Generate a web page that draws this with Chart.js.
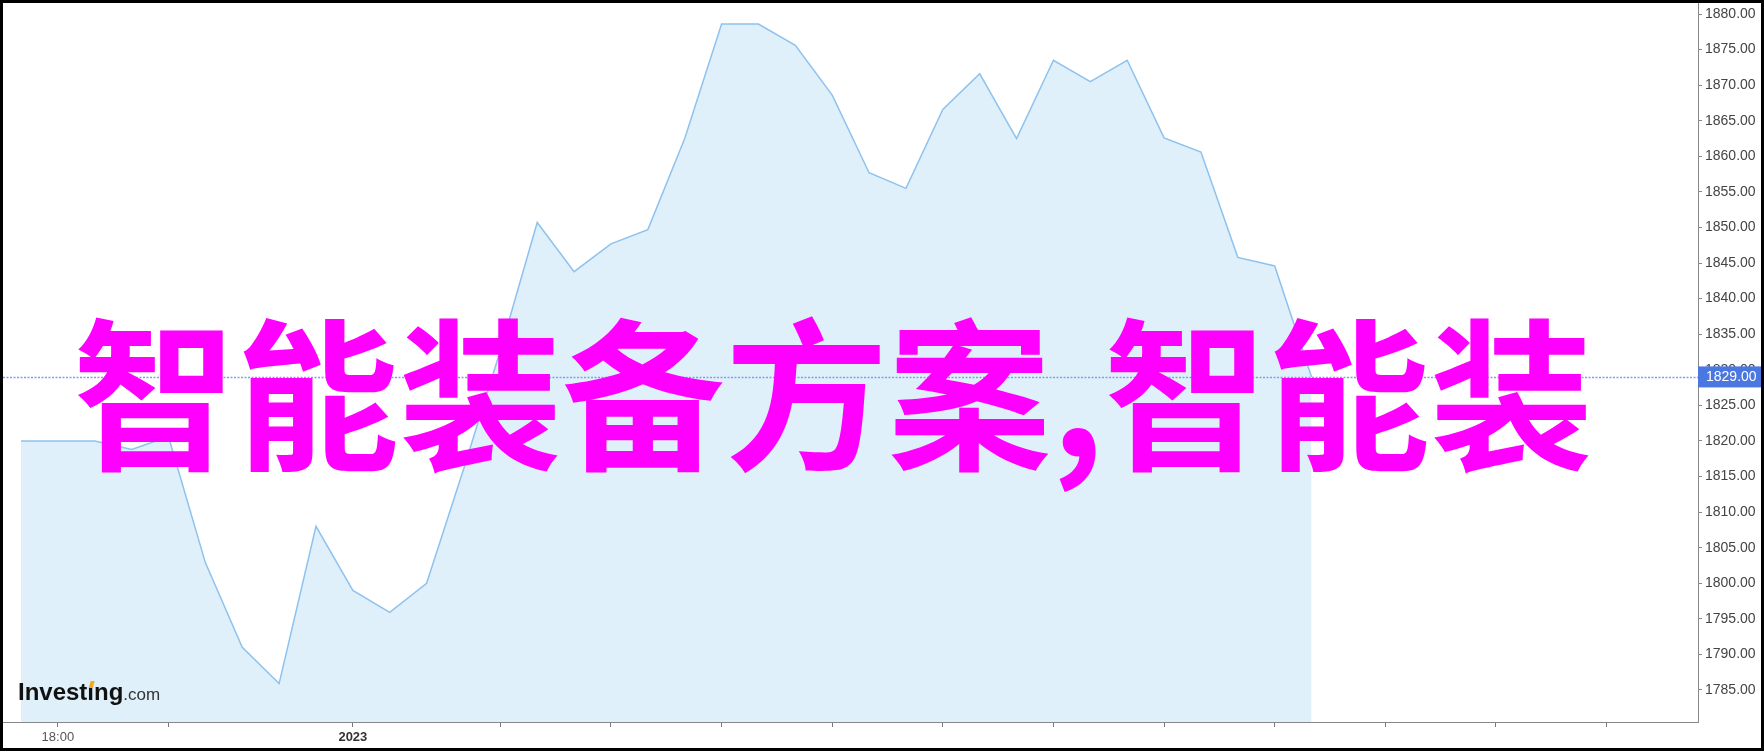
<!DOCTYPE html>
<html>
<head>
<meta charset="utf-8">
<script src="https://cdn.jsdelivr.net/npm/chart.js@4.4.0/dist/chart.umd.min.js"></script>
<style>
  html, body { margin: 0; padding: 0; background: #fff; }
  #wrap { width: 1758px; height: 745px; border: 3px solid #000; }
  canvas { display: block; }
</style>
</head>
<body>
<div id="wrap"><canvas id="chart" width="1758" height="745"></canvas></div>
<script>
  // one point per bar interval, index 0 = first bar
  const prices = [
    1820, 1820, 1820, 1818.8, 1820.6, 1802.9, 1791, 1785.9, 1808, 1799,
    1795.9, 1800, 1816, 1832.7, 1850.7, 1843.8, 1847.7, 1849.7, 1862.5, 1878.6,
    1878.6, 1875.6, 1868.6, 1857.7, 1855.5, 1866.6, 1871.6, 1862.5, 1873.5, 1870.5,
    1873.5, 1862.6, 1860.6, 1845.8, 1844.6, 1829
  ];
  const lastPrice = 1829;

  const xTickIdx = [1, 4, 9, 13, 16, 19, 22, 25, 28, 31, 34, 37, 40, 43];
  const xLabelIdx = [1, 9];
  const xLabelText = ["18:00", "2023"];
  const xBoldIdx = [9];

  const yTicks = [1785, 1790, 1795, 1800, 1805, 1810, 1815, 1820, 1825, 1830,
                  1835, 1840, 1845, 1850, 1855, 1860, 1865, 1870, 1875, 1880];

  const watermark = "智能装备方案,智能装";

  const points = prices.map((p, i) => ({ x: i, y: p }));

  const overlay = {
    id: "overlay",
    afterDatasetsDraw(chart) {
      const { ctx, chartArea: a, scales: { y } } = chart;
      const py = Math.round(y.getPixelForValue(lastPrice)) + 0.5;
      ctx.save();
      ctx.strokeStyle = "#7d9fe8";
      ctx.lineWidth = 1.5;
      ctx.setLineDash([2, 1.5]);
      ctx.beginPath();
      ctx.moveTo(a.left, py);
      ctx.lineTo(a.right, py);
      ctx.stroke();
      ctx.restore();

      // logo
      ctx.save();
      ctx.fillStyle = "#111";
      ctx.font = 'bold 24px "Liberation Sans"';
      ctx.textBaseline = "alphabetic";
      const w1 = ctx.measureText("Invest").width;
      const w2 = ctx.measureText("ı").width;
      ctx.fillText("Investıng", 15, 697);
      const w = ctx.measureText("Investıng").width;
      ctx.fillStyle = "#f5a623";
      ctx.beginPath();
      const dx = 15 + w1 + w2 / 2;
      ctx.moveTo(dx - 2, 685);
      ctx.lineTo(dx + 2, 685);
      ctx.lineTo(dx + 4, 678);
      ctx.lineTo(dx, 678);
      ctx.closePath();
      ctx.fill();
      ctx.fillStyle = "#333";
      ctx.font = '17px "Liberation Sans"';
      ctx.fillText(".com", 15 + w, 697);
      ctx.restore();
    },
    afterDraw(chart) {
      const { ctx, scales: { y } } = chart;
      ctx.save();
      ctx.fillStyle = "#ff00ff";
      ctx.font = 'bold 163px "Noto Sans CJK SC"';
      ctx.textBaseline = "middle";
      ctx.fillText(watermark, 70, 392);
      ctx.restore();

      const py = y.getPixelForValue(lastPrice);
      ctx.save();
      ctx.fillStyle = "#4a78e0";
      ctx.fillRect(y.left, py - 10.5, chart.width - y.left, 21);
      ctx.fillStyle = "#fff";
      ctx.font = '14px "Liberation Sans"';
      ctx.textBaseline = "middle";
      ctx.fillText(lastPrice.toFixed(2), y.left + 8, py + 0.5);
      ctx.restore();
    }
  };

  new Chart(document.getElementById("chart"), {
    type: "line",
    data: {
      datasets: [{
        data: points,
        borderColor: "#8ec2ee",
        borderWidth: 1.5,
        backgroundColor: "#e0f0fa",
        fill: "start",
        pointRadius: 0,
        tension: 0
      }]
    },
    options: {
      responsive: false,
      animation: false,
      devicePixelRatio: 1,
      layout: { padding: 0 },
      plugins: { legend: { display: false }, tooltip: { enabled: false } },
      scales: {
        x: {
          type: "linear",
          min: -0.488,
          max: 45.48,
          grid: { drawOnChartArea: false, drawTicks: true, tickLength: 5, tickColor: "#777" },
          border: { color: "#888" },
          afterBuildTicks: s => { s.ticks = xTickIdx.map(v => ({ value: v })); },
          afterFit: s => { s.height = 26; s.paddingLeft = 0; s.paddingRight = 0; },
          ticks: {
            autoSkip: false,
            maxRotation: 0,
            padding: 3,
            callback: v => {
              const k = xLabelIdx.indexOf(v);
              return k >= 0 ? xLabelText[k] : "";
            },
            font: c => ({ family: "Liberation Sans", size: 13, weight: xBoldIdx.includes(c.tick && c.tick.value) ? "bold" : "normal" }),
            color: c => xBoldIdx.includes(c.tick && c.tick.value) ? "#333" : "#555"
          }
        },
        y: {
          type: "linear",
          position: "right",
          min: 1780.5,
          max: 1881.55,
          grid: { drawOnChartArea: false, drawTicks: true, tickLength: 4, tickColor: "#888" },
          border: { color: "#888" },
          afterBuildTicks: s => { s.ticks = yTicks.map(v => ({ value: v })); },
          afterFit: s => { s.width = 63; s.paddingTop = 0; s.paddingBottom = 0; },
          ticks: {
            padding: 3,
            callback: v => v.toFixed(2),
            font: { family: "Liberation Sans", size: 14 },
            color: "#444"
          }
        }
      }
    },
    plugins: [overlay]
  });
</script>
</body>
</html>
